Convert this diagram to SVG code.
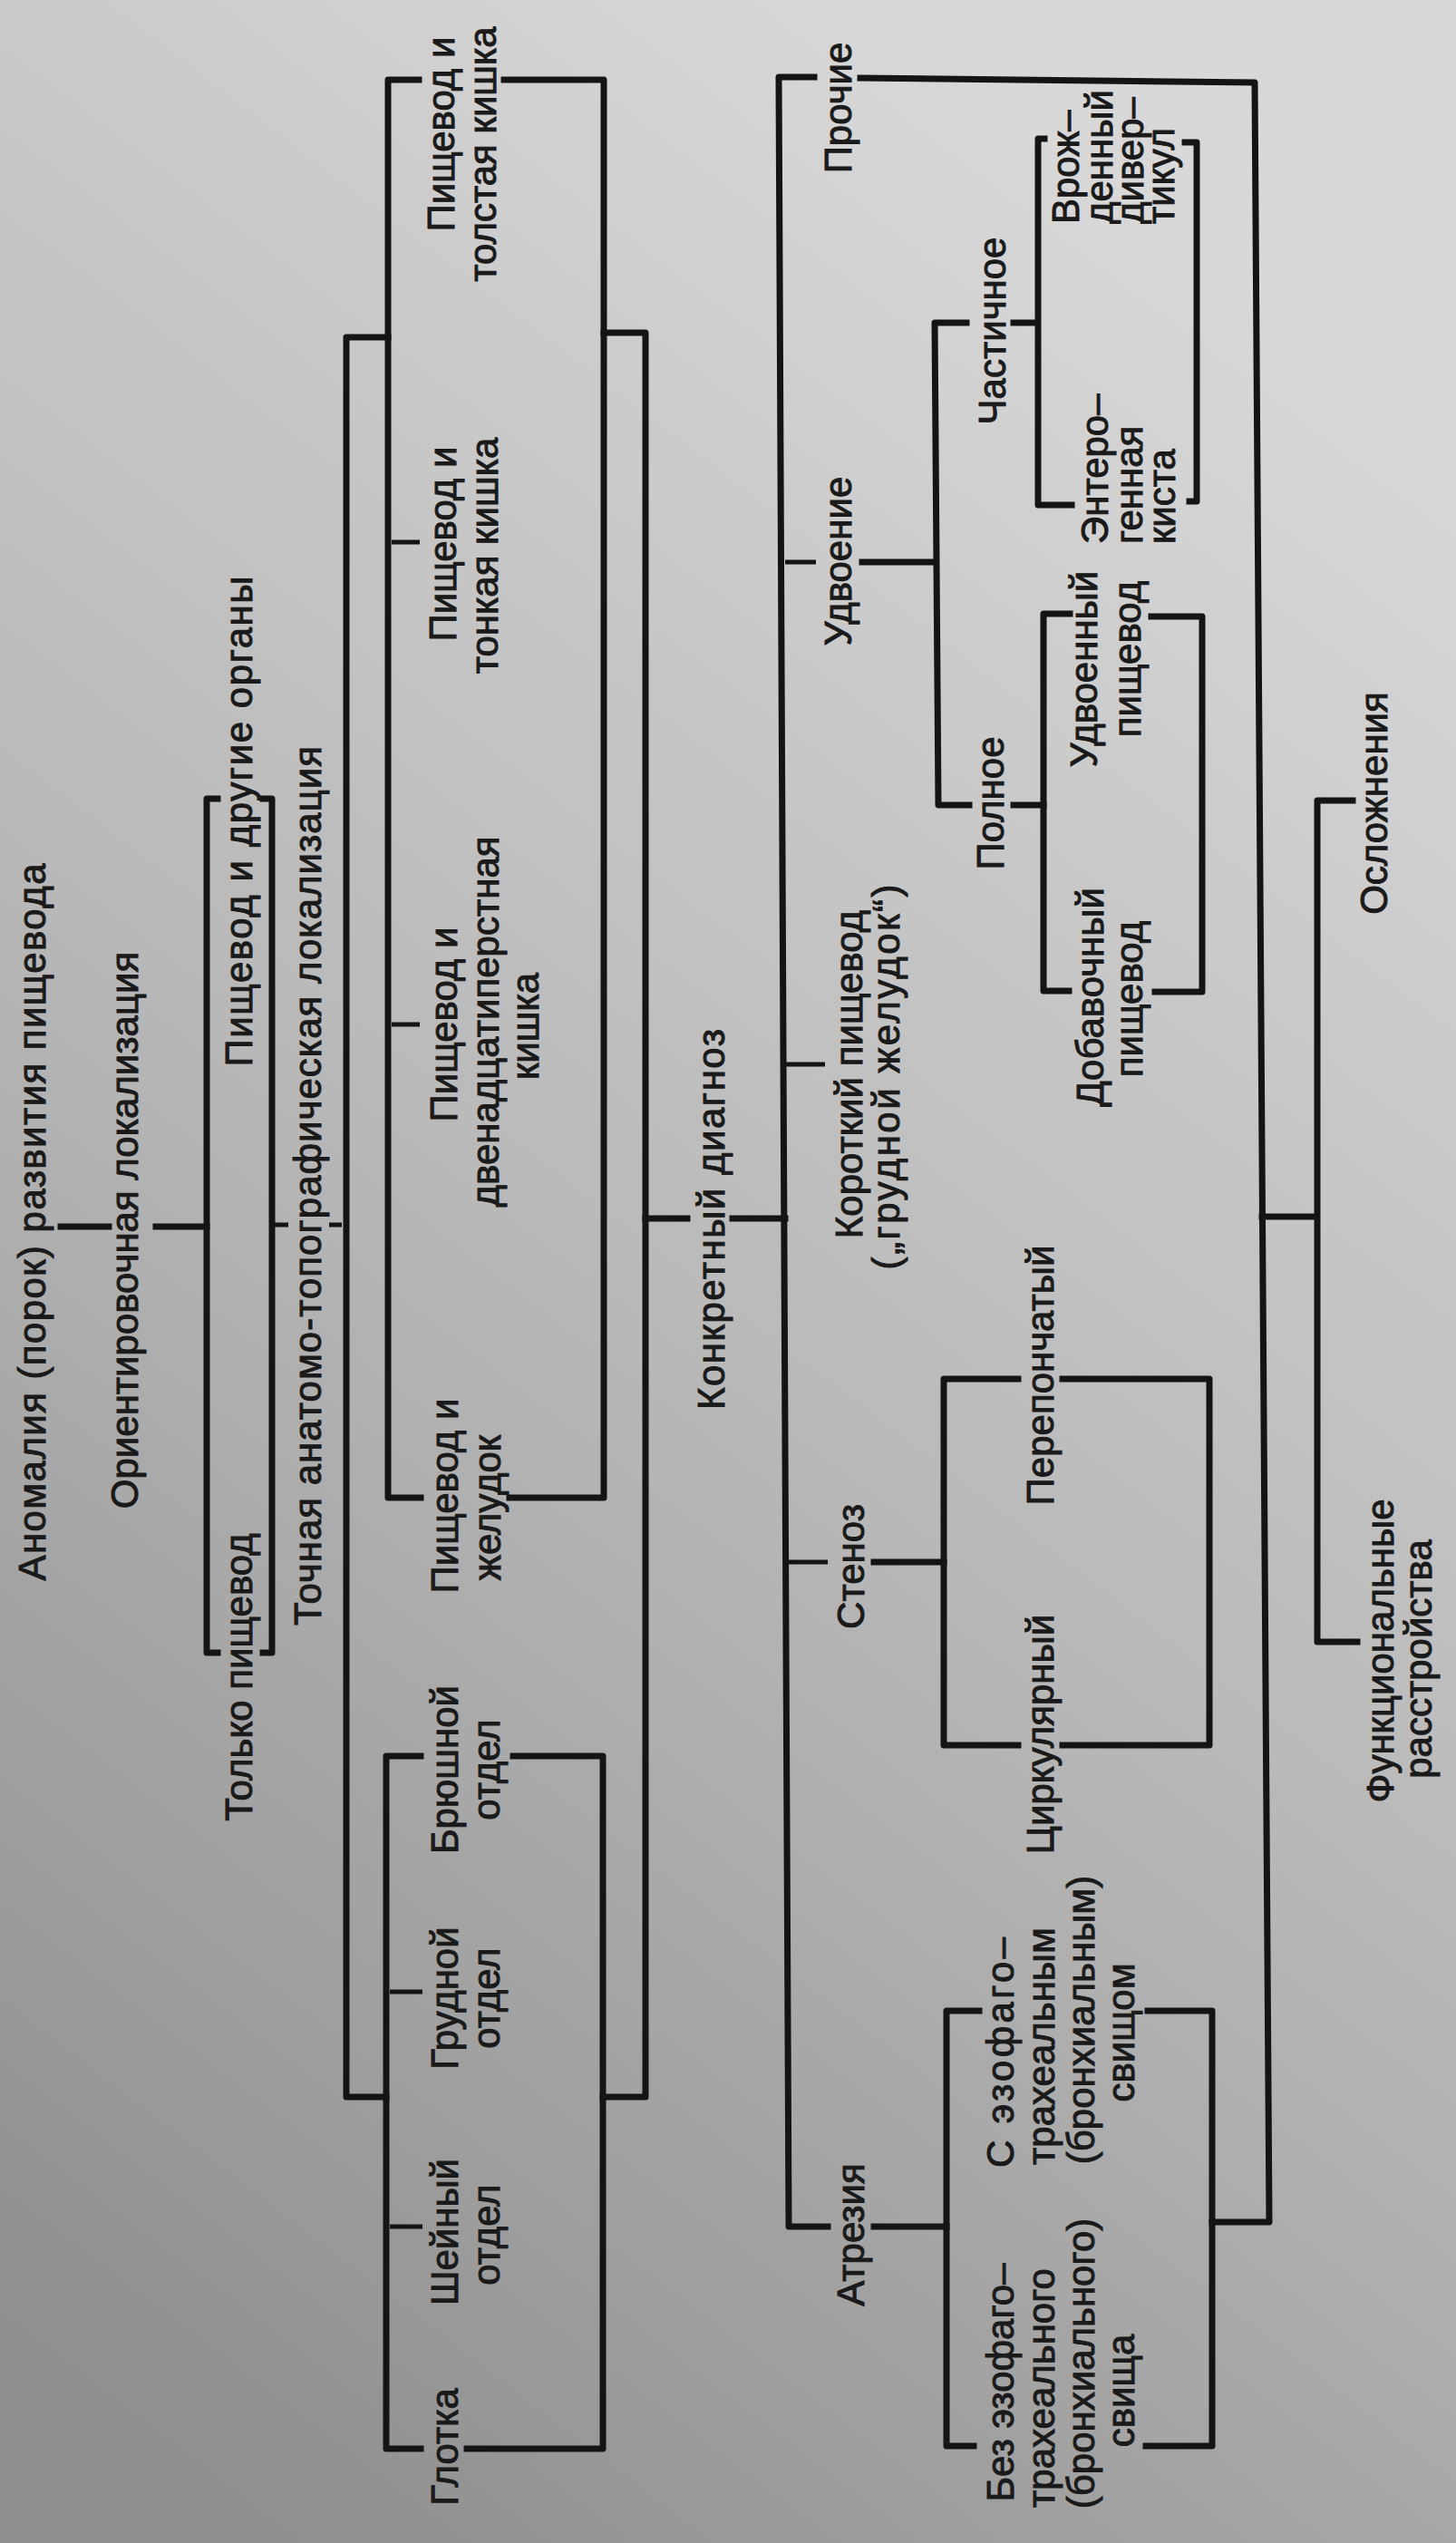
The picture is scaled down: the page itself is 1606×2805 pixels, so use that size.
<svg xmlns="http://www.w3.org/2000/svg" width="1606" height="2805" viewBox="0 0 1606 2805">
<defs>
<linearGradient id="bg" gradientUnits="userSpaceOnUse" x1="0" y1="2600" x2="1606" y2="500">
<stop offset="0" stop-color="#8e8e8e"/>
<stop offset="0.5" stop-color="#b8b8b8"/>
<stop offset="1" stop-color="#d8d8d8"/>
</linearGradient>
<style>
.t{font-family:"Liberation Sans",Arial,sans-serif;font-size:42px;fill:#1a1a1a;stroke:#1a1a1a;stroke-width:1;text-anchor:middle}
.ts{font-family:"Liberation Sans",Arial,sans-serif;font-size:42px;fill:#1a1a1a;stroke:#1a1a1a;stroke-width:1;text-anchor:start}
.ln{fill:none;stroke:#141414;stroke-width:7;stroke-linecap:square;stroke-linejoin:round}
.tk{fill:none;stroke:#141414;stroke-width:5}
</style>
</defs>
<rect x="0" y="0" width="1606" height="2805" fill="url(#bg)"/>

<g id="connectors">
<path class="ln" d="M67 1353H120M172 1353H228"/>
<path class="ln" d="M240 881H228V1823H240M290 881H300V1823H290"/>
<path class="tk" d="M303 1351H318M363 1351H377"/>
<path class="ln" d="M428 372H382V2313H426M666 367H712V2313H665"/>
<path class="ln" d="M462 88H428V1652H464M556 88H666V1652H562"/>
<path class="tk" d="M432 598H463M432 1130H463"/>
<path class="ln" d="M464 1937H426V2701H464M566 1937H665V2701H515"/>
<path class="tk" d="M430 2197H466M430 2456H466"/>
<path class="ln" d="M712 1344H758M808 1344H866"/>
<path class="ln" d="M898 85H859L870 2456H913"/>
<path class="ln" d="M949 86L1384 91L1400 2451H1337"/>
<path class="tk" d="M866 620H900M867 1174H910M869 1723H913"/>
<path class="ln" d="M951 620H1031M964 1723H1041M964 2456H1044"/>
<path class="ln" d="M1066 356H1031L1035 888H1069M1118 356H1143M1118 888H1151"/>
<path class="ln" d="M1152 153H1145V557H1182M1307 157H1320V553H1312"/>
<path class="ln" d="M1180 677H1151V1093H1179M1270 680H1326V1094H1274"/>
<path class="ln" d="M1123 1521H1041V1925H1123M1172 1521H1334V1925H1172"/>
<path class="ln" d="M1080 2218H1044V2698H1074M1266 2218H1337V2698H1264"/>
<path class="ln" d="M1392 1342H1453M1492 883H1453V1811H1497"/>
</g>

<g id="n-root"><text class="t" transform="translate(50,1348) rotate(-90)" textLength="791">Аномалия (порок) развития пищевода</text></g>
<g id="n-orient"><text class="t" transform="translate(152,1357) rotate(-90)">Ориентировочная локализация</text></g>
<g id="n-other-organs"><text class="t" transform="translate(278,906) rotate(-90)" textLength="541">Пищевод и другие органы</text></g>
<g id="n-only"><text class="t" transform="translate(278,1850) rotate(-90)">Только пищевод</text></g>
<g id="n-exact"><text class="t" transform="translate(354,1308) rotate(-90)" textLength="970">Точная анатомо-топографическая локализация</text></g>

<g id="n-colon">
<text class="t" transform="translate(501,148) rotate(-90)">Пищевод и</text>
<text class="t" transform="translate(547,170) rotate(-90)">толстая кишка</text>
</g>
<g id="n-small">
<text class="t" transform="translate(503,600) rotate(-90)">Пищевод и</text>
<text class="t" transform="translate(549,613) rotate(-90)">тонкая кишка</text>
</g>
<g id="n-duod">
<text class="t" transform="translate(504,1130) rotate(-90)">Пищевод и</text>
<text class="t" transform="translate(550,1127) rotate(-90)">двенадцатиперстная</text>
<text class="t" transform="translate(594,1132) rotate(-90)">кишка</text>
</g>
<g id="n-stomach">
<text class="t" transform="translate(505,1650) rotate(-90)">Пищевод и</text>
<text class="t" transform="translate(552,1663) rotate(-90)">желудок</text>
</g>
<g id="n-abd">
<text class="t" transform="translate(505,1952) rotate(-90)">Брюшной</text>
<text class="t" transform="translate(551,1952) rotate(-90)">отдел</text>
</g>
<g id="n-thor">
<text class="t" transform="translate(505,2204) rotate(-90)">Грудной</text>
<text class="t" transform="translate(551,2204) rotate(-90)">отдел</text>
</g>
<g id="n-cerv">
<text class="t" transform="translate(505,2462) rotate(-90)">Шейный</text>
<text class="t" transform="translate(551,2465) rotate(-90)">отдел</text>
</g>
<g id="n-phar"><text class="t" transform="translate(505,2699) rotate(-90)">Глотка</text></g>

<g id="n-concrete"><text class="t" transform="translate(799,1345) rotate(-90)" textLength="420">Конкретный диагноз</text></g>

<g id="n-other"><text class="t" transform="translate(939,119) rotate(-90)">Прочие</text></g>
<g id="n-dup"><text class="t" transform="translate(939,619) rotate(-90)">Удвоение</text></g>
<g id="n-short">
<text class="t" transform="translate(951,1185) rotate(-90)">Короткий пищевод</text>
<text class="t" transform="translate(992,1188) rotate(-90)" textLength="425">(„грудной желудок“)</text>
</g>
<g id="n-sten"><text class="t" transform="translate(953,1728) rotate(-90)">Стеноз</text></g>
<g id="n-atr"><text class="t" transform="translate(953,2465) rotate(-90)">Атрезия</text></g>

<g id="n-partial"><text class="t" transform="translate(1109,365) rotate(-90)">Частичное</text></g>
<g id="n-full"><text class="t" transform="translate(1107,886) rotate(-90)">Полное</text></g>

<g id="n-divert">
<text class="ts" transform="translate(1190,247) rotate(-90)">Врож–</text>
<text class="ts" transform="translate(1227,247) rotate(-90)">денный</text>
<text class="ts" transform="translate(1261,247) rotate(-90)">дивер–</text>
<text class="ts" transform="translate(1295,247) rotate(-90)">тикул</text>
</g>
<g id="n-cyst">
<text class="ts" transform="translate(1222,600) rotate(-90)">Энтеро–</text>
<text class="ts" transform="translate(1260,600) rotate(-90)">генная</text>
<text class="ts" transform="translate(1296,600) rotate(-90)">киста</text>
</g>
<g id="n-doubled">
<text class="t" transform="translate(1210,738) rotate(-90)">Удвоенный</text>
<text class="t" transform="translate(1258,727) rotate(-90)">пищевод</text>
</g>
<g id="n-accessory">
<text class="t" transform="translate(1217,1100) rotate(-90)">Добавочный</text>
<text class="t" transform="translate(1260,1102) rotate(-90)">пищевод</text>
</g>

<g id="n-membr"><text class="t" transform="translate(1162,1517) rotate(-90)">Перепончатый</text></g>
<g id="n-circ"><text class="t" transform="translate(1162,1913) rotate(-90)">Циркулярный</text></g>

<g id="n-with-fistula">
<text class="t" transform="translate(1118,2264) rotate(-90)" textLength="254">С эзофаго–</text>
<text class="t" transform="translate(1163,2257) rotate(-90)">трахеальным</text>
<text class="t" transform="translate(1207,2228) rotate(-90)">(бронхиальным)</text>
<text class="t" transform="translate(1251,2242) rotate(-90)">свищом</text>
</g>
<g id="n-without-fistula">
<text class="t" transform="translate(1118,2628) rotate(-90)">Без эзофаго–</text>
<text class="t" transform="translate(1163,2634) rotate(-90)">трахеального</text>
<text class="t" transform="translate(1207,2607) rotate(-90)">(бронхиального)</text>
<text class="t" transform="translate(1251,2637) rotate(-90)">свища</text>
</g>

<g id="n-compl"><text class="t" transform="translate(1530,886) rotate(-90)">Осложнения</text></g>
<g id="n-func">
<text class="t" transform="translate(1537,1821) rotate(-90)">Функциональные</text>
<text class="t" transform="translate(1579,1830) rotate(-90)">расстройства</text>
</g>
</svg>
